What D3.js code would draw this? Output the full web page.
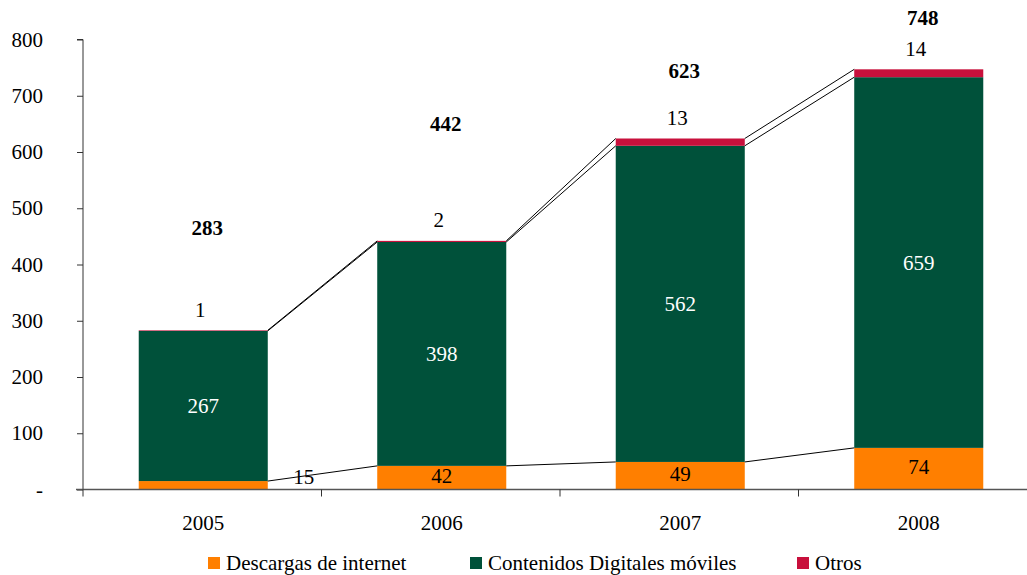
<!DOCTYPE html>
<html>
<head>
<meta charset="utf-8">
<script src="https://cdn.jsdelivr.net/npm/d3@7"></script>
<style>
  html, body { margin: 0; padding: 0; background: #fff; }
  svg { display: block; }
  svg text { font-family: "Liberation Serif", "DejaVu Serif", serif; }
</style>
</head>
<body>
<svg id="chart" width="1027" height="575"></svg>
<script>
// Ingresos por año, por tipo de contenido
const years = ["2005", "2006", "2007", "2008"];
const descargas = [15, 42, 49, 74];
const contenidos = [267, 398, 562, 659];
const otros = [1, 2, 13, 14];
const totals = [283, 442, 623, 748];
const seriesNames = ["Descargas de internet", "Contenidos Digitales móviles", "Otros"];
const yTicks = [0, 100, 200, 300, 400, 500, 600, 700, 800];

// Layout
const width = 1027, height = 575;
const plotLeft = 84, plotTop = 39.5, plotBottom = 489.5;
const step = 238.5;
const colors = ["#FF7F00", "#00513A", "#C8103C"];
const totalLabelLift = [103, 117, 68, 51];
const FONT = "'Liberation Serif', 'DejaVu Serif', serif";
const FS = "21px";

const svg = d3.select("#chart");

const x = d3.scaleBand()
  .domain(years)
  .range([plotLeft, plotLeft + step * years.length])
  .paddingInner(0.459)
  .paddingOuter(0.2295);

const y = d3.scaleLinear().domain([0, 800]).range([plotBottom, plotTop]);

// Stack the three series
const rows = years.map((yr, i) => ({ year: yr, s0: descargas[i], s1: contenidos[i], s2: otros[i] }));
const stack = d3.stack().keys(["s0", "s1", "s2"]);
const layers = stack(rows);

// Bars
layers.forEach((layer, k) => {
  svg.append("g")
    .selectAll("rect")
    .data(layer)
    .join("rect")
    .attr("x", d => x(d.data.year))
    .attr("y", d => y(d[1]))
    .attr("width", x.bandwidth())
    .attr("height", d => y(d[0]) - y(d[1]))
    .attr("fill", colors[k]);
});

// Series lines joining the top of each segment between neighbouring bars
const lineG = svg.append("g").attr("fill", "none").attr("stroke", "#000").attr("stroke-width", 1);
layers.forEach(layer => {
  for (let i = 0; i < layer.length - 1; i++) {
    const a = layer[i], b = layer[i + 1];
    lineG.append("line")
      .attr("x1", x(a.data.year) + x.bandwidth())
      .attr("y1", y(a[1]))
      .attr("x2", x(b.data.year))
      .attr("y2", y(b[1]));
  }
});

// Y axis
const yAxis = d3.axisLeft(y)
  .tickValues(yTicks)
  .tickSize(6)
  .tickPadding(34)
  .tickFormat(d => d === 0 ? "-" : d3.format("d")(d));
const yg = svg.append("g")
  .attr("transform", `translate(${plotLeft - 1},0)`)
  .call(yAxis)
  .attr("font-family", FONT)
  .attr("font-size", FS);
yg.select(".domain").attr("stroke", "#333").attr("d", `M-6,${plotTop}H0V${plotBottom}`);
yg.selectAll(".tick line").attr("stroke", "#333");
yg.selectAll(".tick text")
  .attr("fill", "#000")
  .attr("font-family", FONT)
  .attr("font-size", FS);

// X axis
svg.append("line")
  .attr("x1", plotLeft - 8).attr("x2", width)
  .attr("y1", plotBottom).attr("y2", plotBottom)
  .attr("stroke", "#555").attr("stroke-width", 1.6);

const boundaries = d3.range(years.length + 1).map(i => plotLeft - 1 + i * step);
svg.append("g").selectAll("line")
  .data(boundaries)
  .join("line")
  .attr("x1", d => d).attr("x2", d => d)
  .attr("y1", plotBottom).attr("y2", plotBottom + 7)
  .attr("stroke", "#333");

svg.append("g").selectAll("text")
  .data(years)
  .join("text")
  .attr("x", d => x(d) + x.bandwidth() / 2)
  .attr("y", 530)
  .attr("text-anchor", "middle")
  .attr("font-family", FONT)
  .attr("font-size", FS)
  .text(d => d);

// Value labels
const labels = svg.append("g")
  .attr("font-family", FONT)
  .attr("font-size", FS)
  .attr("text-anchor", "middle");

// Descargas: inside the segment, or beside the bar when the segment is too thin
layers[0].forEach(d => {
  const cx = x(d.data.year) + x.bandwidth() / 2;
  const h = y(d[0]) - y(d[1]);
  const thin = h < 20;
  labels.append("text")
    .attr("x", thin ? x(d.data.year) + x.bandwidth() + 36 : cx)
    .attr("y", thin ? plotBottom - 13 : (y(d[0]) + y(d[1])) / 2 - 2)
    .attr("dy", "0.35em")
    .attr("fill", "#000")
    .text(d[1] - d[0]);
});

// Contenidos: white, centred in the segment
layers[1].forEach(d => {
  labels.append("text")
    .attr("x", x(d.data.year) + x.bandwidth() / 2)
    .attr("y", (y(d[0]) + y(d[1])) / 2)
    .attr("dy", "0.35em")
    .attr("fill", "#fff")
    .text(d[1] - d[0]);
});

// Otros: above the bar
layers[2].forEach(d => {
  labels.append("text")
    .attr("x", x(d.data.year) + x.bandwidth() / 2 - 3)
    .attr("y", y(d[1]) - 21)
    .attr("dy", "0.35em")
    .attr("fill", "#000")
    .text(d[1] - d[0]);
});

// Totals in bold
years.forEach((yr, i) => {
  labels.append("text")
    .attr("x", x(yr) + x.bandwidth() / 2 + 4)
    .attr("y", y(totals[i]) - totalLabelLift[i])
    .attr("dy", "0.35em")
    .attr("fill", "#000")
    .attr("font-weight", "bold")
    .text(totals[i]);
});

// Legend
const legendX = [208, 470, 797];
const legend = svg.append("g");
seriesNames.forEach((name, k) => {
  legend.append("rect")
    .attr("x", legendX[k]).attr("y", 557)
    .attr("width", 12).attr("height", 12)
    .attr("fill", colors[k]);
  legend.append("text")
    .attr("x", legendX[k] + 18).attr("y", 570)
    .attr("font-family", FONT)
    .attr("font-size", FS)
    .text(name);
});
</script>
</body>
</html>
